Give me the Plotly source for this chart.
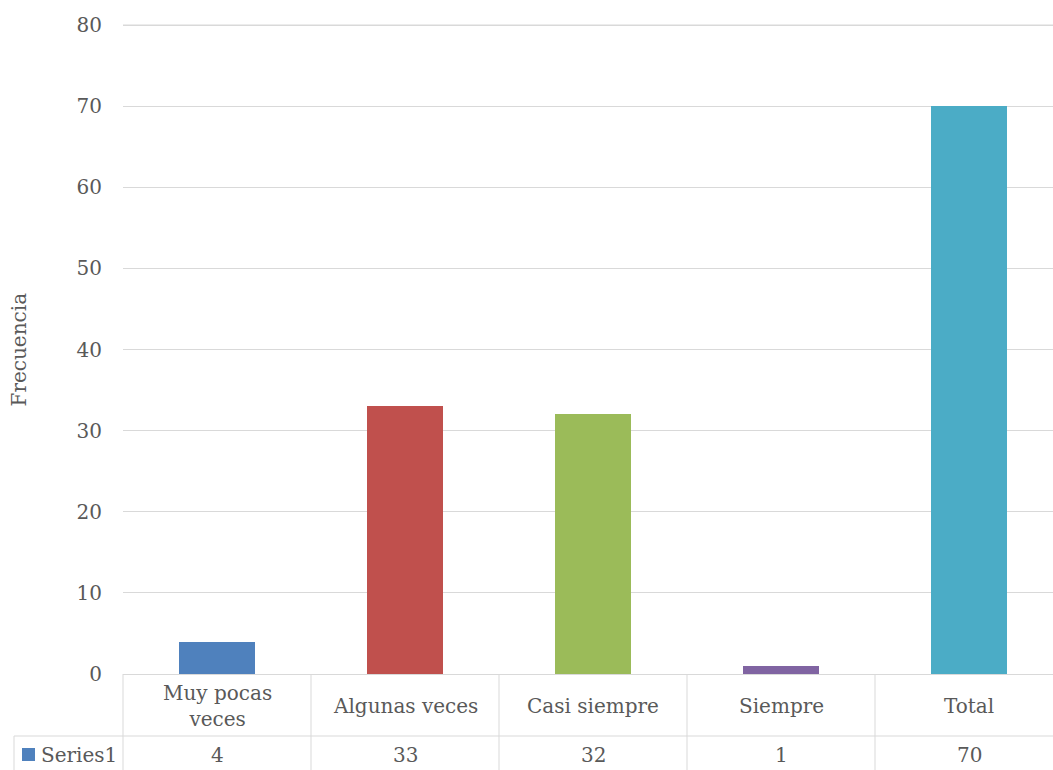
import plotly.graph_objects as go

categories = ["Muy pocas<br>veces", "Algunas veces", "Casi siempre", "Siempre", "Total"]
table_labels = ["Muy pocas<br>veces", "Algunas veces", "Casi siempre", "Siempre", "Total"]
values = [4, 33, 32, 1, 70]
bar_colors = ["#4F81BD", "#C0504D", "#9BBB59", "#8064A2", "#4BACC6"]
series_name = "Series1"
y_ticks = [0, 10, 20, 30, 40, 50, 60, 70, 80]
y_title = "Frecuencia"

FONT = "DejaVu Serif"
FS = 20
TXT = "#595959"
GRID = "#D9D9D9"

W, H = 1053, 770
L, T, B = 123, 22, 96
plot_h = H - T - B
plot_w = W - L
cat_px = 188.0
x_hi = -0.5 + plot_w / cat_px
y_hi = 80 * plot_h / 649.0

def py(p):  # pixel y -> paper y
    return (H - B - p) / plot_h

def px(p):  # pixel x -> paper x
    return (p - L) / plot_w

fig = go.Figure()
fig.add_trace(go.Bar(
    x=list(range(len(values))), y=values, marker_color=bar_colors, marker_line_width=0,
    width=0.404, name=series_name, showlegend=False,
))

shapes = []
line = dict(color=GRID, width=1)
shapes.append(dict(type="line", xref="paper", yref="y", x0=0, x1=1, y0=y_ticks[-1], y1=y_ticks[-1], line=line, layer="below"))
shapes.append(dict(type="line", xref="paper", yref="paper", x0=0, x1=1, y0=py(736), y1=py(736), line=line))
shapes.append(dict(type="line", xref="paper", yref="paper", x0=px(14), x1=0, y0=py(736), y1=py(736), line=line))
shapes.append(dict(type="line", xref="paper", yref="paper", x0=0, x1=0, y0=0, y1=py(770), line=line))
shapes.append(dict(type="line", xref="paper", yref="paper", x0=px(14), x1=px(14), y0=py(736), y1=py(770), line=line))
for i in range(len(values) - 1):
    shapes.append(dict(type="line", xref="x", yref="paper", x0=i + 0.5, x1=i + 0.5, y0=0, y1=py(770), line=line))
shapes.append(dict(type="rect", xref="paper", yref="paper", x0=px(22), x1=px(35), y0=py(748), y1=py(761),
                   fillcolor=bar_colors[0], line=dict(width=0)))

annotations = []
for i, (lab, v) in enumerate(zip(table_labels, values)):
    annotations.append(dict(x=i, xref="x", y=py(706), yref="paper", text=lab, showarrow=False,
                            font=dict(family=FONT, size=FS, color=TXT), yanchor="middle", xanchor="center"))
    annotations.append(dict(x=i, xref="x", y=py(755), yref="paper", text=str(v), showarrow=False,
                            font=dict(family=FONT, size=FS, color=TXT), yanchor="middle", xanchor="center"))
annotations.append(dict(x=px(39), xref="paper", y=py(755), yref="paper", text=series_name, showarrow=False,
                        font=dict(family=FONT, size=FS, color=TXT), yanchor="middle", xanchor="left"))
annotations.append(dict(x=px(18), xref="paper", y=py(349.5), yref="paper", text=y_title, showarrow=False, textangle=-90,
                        font=dict(family=FONT, size=FS, color=TXT), yanchor="middle", xanchor="center"))

fig.update_layout(
    width=W, height=H, margin=dict(l=L, r=0, t=T, b=B),
    paper_bgcolor="white", plot_bgcolor="white",
    shapes=shapes, annotations=annotations,
    xaxis=dict(range=[-0.5, x_hi], showticklabels=False, showgrid=False, zeroline=False,
               showline=False, ticks=""),
    yaxis=dict(range=[0, y_hi], tickvals=y_ticks, showgrid=True, gridcolor=GRID, gridwidth=1,
               zeroline=True, zerolinecolor=GRID, zerolinewidth=1, showline=False, ticks="",
               tickfont=dict(family=FONT, size=FS, color=TXT), ticklabelstandoff=20),
    bargap=0,
)
fig.write_html("out.html")
